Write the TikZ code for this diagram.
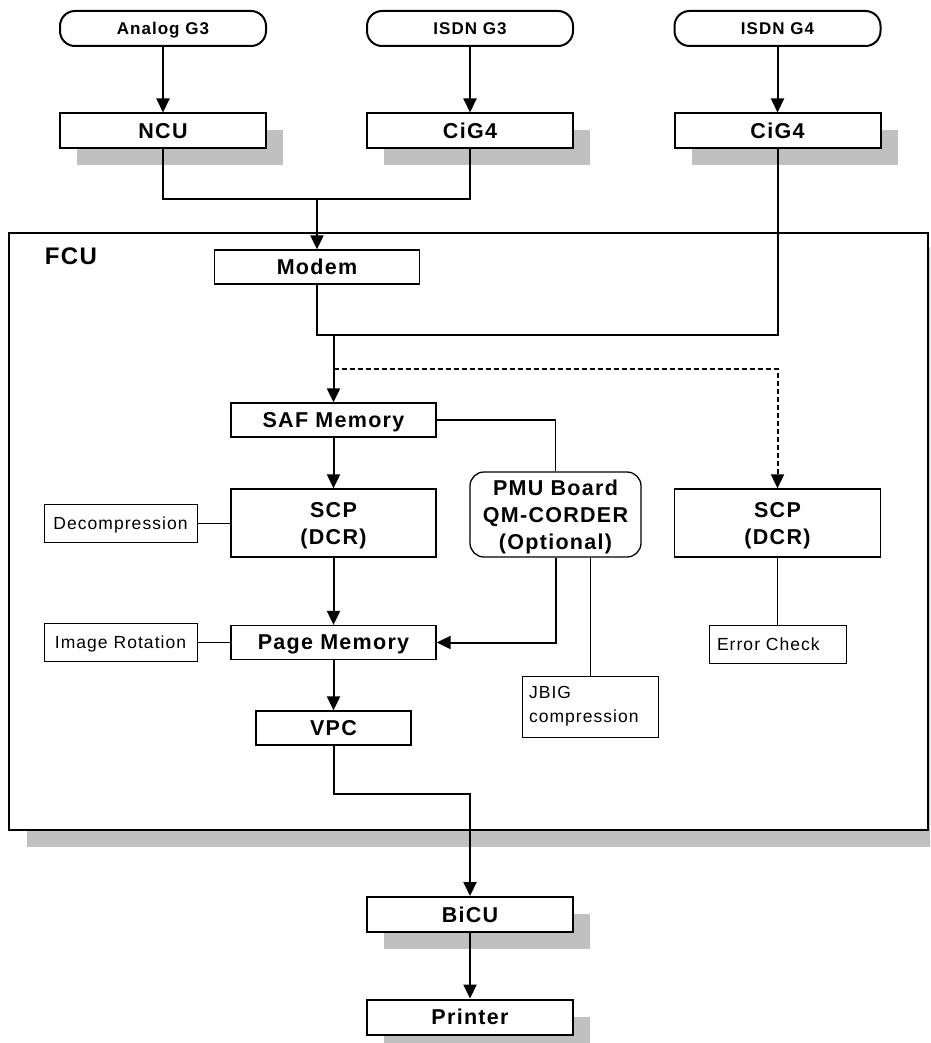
\documentclass[tikz,border=0pt]{standalone}
\usepackage{fontspec}
\setmainfont{Liberation Sans}[LetterSpace=6]
\usetikzlibrary{arrows.meta,shadows}
\definecolor{shadegray}{HTML}{C0C0C0}

\begin{document}
\begin{tikzpicture}[x=1pt, y=-1pt,
        >={Triangle[length=14pt,width=13pt]},
        link/.style={line width=2pt},
        note/.style={line width=1pt},
        srcbox/.style={draw, line width=2pt, rounded corners=15pt, minimum width=206pt, minimum height=35pt, inner sep=0pt, text depth=0pt, font=\fontsize{17}{20}\selectfont\bfseries},
        unitbox/.style={draw, fill=white, line width=2pt, minimum width=206pt, minimum height=35pt, inner sep=0pt, text depth=0pt, font=\fontsize{21.5}{27}\selectfont\bfseries, general shadow={fill=shadegray, shadow xshift=17pt, shadow yshift=-17pt}},
        fcubox/.style={draw, fill=white, line width=1.3pt, minimum width=205pt, minimum height=34pt, inner sep=0pt, text depth=0pt, align=center, font=\fontsize{21.5}{27}\selectfont\bfseries},
        sidebox/.style={draw, line width=1pt, minimum height=38pt, inner sep=0pt, align=center, font=\fontsize{17.5}{23}\selectfont}]
        \useasboundingbox (0,0) rectangle (930,1043);
        \clip (0,0) rectangle (930,1043);

        \node[srcbox] (ag3) at (163,28.5) {Analog G3};
        \node[srcbox] (ig3) at (470,28.5) {ISDN G3};
        \node[srcbox] (ig4) at (777.5,28.5) {ISDN G4};
        \node[unitbox] (ncu) at (163,131) {NCU};
        \node[unitbox] (cig3) at (470,131) {CiG4};
        \node[unitbox] (cig4) at (777.5,131) {CiG4};

        \fill[shadegray] (27,247) rectangle (946,847);
        \draw[line width=2pt, fill=white] (9,233) rectangle (928,830);
        \node[font=\fontsize{24}{27}\selectfont\bfseries] (fcu) at (71,256) {FCU};

        \node[fcubox] (modem) at (317,267) {Modem};
        \node[fcubox] (saf) at (333.5,420) {SAF Memory};
        \node[fcubox, minimum height=68pt] (scpl) at (333.5,523) {SCP\\(DCR)};
        \node[fcubox] (page) at (333.5,642.5) {Page Memory};
        \node[fcubox, minimum width=155pt] (vpc) at (333.5,728) {VPC};
        \node[fcubox, minimum width=171pt, minimum height=85pt, rounded corners=14pt] (pmu) at (555.5,514.5) {PMU Board\\QM-CORDER\\(Optional)};
        \node[fcubox, minimum width=206pt, minimum height=68pt] (scpr) at (777.5,523) {SCP\\(DCR)};
        \node[sidebox, minimum width=153pt, text depth=0pt] (dec) at (120.5,523) {Decompression};
        \node[sidebox, minimum width=153pt, text depth=0pt] (rot) at (120.5,642.5) {Image Rotation};
        \node[sidebox, text width=122pt, inner xsep=7pt, minimum height=61pt, align=left, font=\fontsize{17.5}{24}\selectfont] (jbig) at (590,706.5) {JBIG\\compression};
        \node[sidebox, text width=121pt, inner xsep=8pt, align=left, text depth=0pt] (err) at (777.5,644) {Error Check};
        \node[unitbox] (bicu) at (470,914.5) {BiCU};
        \node[unitbox] (prn) at (470,1017) {Printer};

        \coordinate (m0) at (317,199);
        \coordinate (m1) at (333.5,335);
        \coordinate (m2) at (777.5,335);
        \coordinate (m3) at (333.5,369);
        \coordinate (m4) at (470,794);

        \draw[->, link] (ag3) -- (ncu);
        \draw[->, link] (ig3) -- (cig3);
        \draw[->, link] (ig4) -- (cig4);
        \draw[link] (ncu.south) |- (m0) -| (cig3.south);
        \draw[->, link] (m0) -- (modem);
        \draw[link] (modem.south) |- (m2) -- (cig4.south);
        \draw[->, link] (m1) -- (saf);
        \draw[->, link, dash pattern=on 5pt off 3pt] (m3) -| (scpr.north);
        \draw[line width=1.5pt] (saf.east) -| (pmu.north);
        \draw[->, link] (saf) -- (scpl);
        \draw[->, link] (scpl) -- (page);
        \draw[->, link] (page) -- (vpc);
        \draw[->, link] (pmu.south) |- (page.east);
        \draw[->, link] (vpc.south) |- (m4) -- (bicu);
        \draw[->, link] (bicu) -- (prn);
        \draw[note] (dec) -- (scpl);
        \draw[note] (rot) -- (page);
        \draw[note] (scpr) -- (err);
        \draw[note] (jbig.north |- pmu.south) -- (jbig.north);
    \end{tikzpicture}
\end{document}
